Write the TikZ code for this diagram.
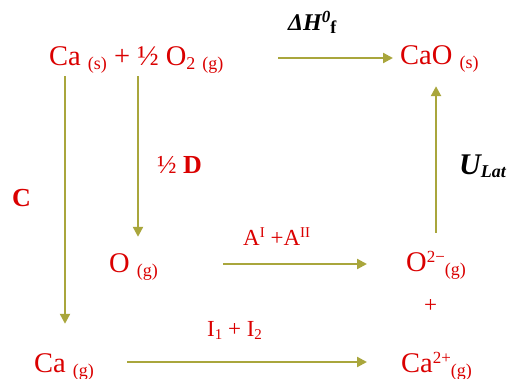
\documentclass[tikz,border=0pt]{standalone}
\usepackage{fontspec}
\setmainfont{Liberation Serif}
\usetikzlibrary{arrows.meta, calc}
\definecolor{chemred}{HTML}{DA0000}
\definecolor{olivearr}{HTML}{A9A63C}
\newcommand{\chsub}[1]{\raisebox{-4pt}{\fontsize{18}{18}\selectfont #1}}
\newcommand{\chsup}[1]{\raisebox{9pt}{\fontsize{17}{17}\selectfont #1}}
\newcommand{\lsub}[1]{\raisebox{-3pt}{\fontsize{15}{15}\selectfont #1}}
\newcommand{\lsup}[1]{\raisebox{8pt}{\fontsize{15}{15}\selectfont #1}}

\begin{document}
\begin{tikzpicture}[x=1pt, y=-1pt,
  chem/.style={anchor=base west, inner sep=0pt, text height=20pt, text depth=6pt,
               text=chemred, font=\fontsize{28.5}{30}\selectfont},
  lab/.style={anchor=base west, inner sep=0pt, text=chemred, font=\fontsize{23}{25}\selectfont},
  arr/.style={olivearr, line width=2.3pt, -{Triangle[length=10pt,width=10pt]}}]
  \useasboundingbox (0,0) rectangle (507,379);
  % species of the cycle
  \node[chem] (reac)  at (49,66)   {Ca \chsub{(s)} + ½ O\chsub{2} \chsub{(g)}};
  \node[chem] (cao)   at (400,65)  {CaO \chsub{(s)}};
  \node[chem] (og)    at (109,273) {O \chsub{(g)}};
  \node[chem] (oion)  at (406,272) {O\chsup{2−}\chsub{(g)}};
  \node[lab]  (plus)  at (424,313) {+};
  \node[chem] (cag)   at (34,373)  {Ca \chsub{(g)}};
  \node[chem] (caion) at (401,373) {Ca\chsup{2+}\chsub{(g)}};
  % step labels
  \node[lab, font=\bfseries\fontsize{26}{28}\selectfont] (clab) at (12,207) {C};
  \node[lab, font=\fontsize{26}{28}\selectfont] (dlab) at (157,174) {½ \textbf{D}};
  \node[lab] (alab) at (243,246) {A\lsup{I} +A\lsup{II}};
  \node[lab] (ilab) at (207,337) {I\lsub{1} + I\lsub{2}};
  \node[lab, text=black, font=\bfseries\itshape\fontsize{24}{26}\selectfont] (dh) at (288,31)
       {ΔH\raisebox{8pt}{\fontsize{17}{17}\selectfont 0}\raisebox{-3pt}{\upshape\fontsize{18}{18}\selectfont f}};
  \node[lab, text=black, font=\bfseries\itshape\fontsize{30}{32}\selectfont] (ulat) at (459,175)
       {U\raisebox{-3pt}{\fontsize{18}{18}\selectfont Lat}};
  % arrows
  \draw[arr] ($(reac.south west)+(16,4)$) -- ($(reac.south west |- cag.north)+(16,-29)$);
  \draw[arr] ($(reac.south west)+(89,4)$) -- ($(reac.south west |- og.north)+(89,-16)$);
  \draw[arr] ($(cao.west)+(-122,0)$) -- ($(cao.west)+(-7,0)$);
  \draw[arr] ($(oion.north)+(0,-19)$) -- ($(oion.north |- cao.south)+(0,15)$);
  \draw[arr] ($(og.east)+(65,-2)$) -- ($(og.east -| oion.west)+(-39,-2)$);
  \draw[arr] ($(cag.east)+(33,-4)$) -- ($(cag.east -| caion.west)+(-34,-4)$);
\end{tikzpicture}
\end{document}
